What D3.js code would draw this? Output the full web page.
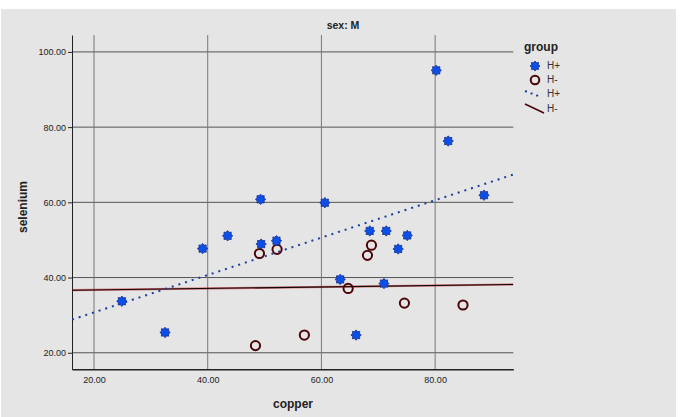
<!DOCTYPE html>
<html><head><meta charset="utf-8">
<script src="https://cdn.jsdelivr.net/npm/d3@7"></script>
<style>body{margin:0;background:#fff}svg{display:block}</style>
</head><body>
<script>
const hPlusCopper = [24.9,32.5,39.1,43.5,49.3,49.4,52.1,60.6,68.5,71.4,75.1,73.5,63.3,71.0,66.1,88.6,80.2,82.3];
const hPlusSelenium = [33.7,25.4,47.7,51.1,60.8,48.9,49.8,59.9,52.4,52.4,51.2,47.6,39.5,38.4,24.7,61.9,95.1,76.3];
const hMinusCopper = [49.1,52.2,48.4,57.0,68.8,68.1,64.7,74.6,84.9];
const hMinusSelenium = [46.4,47.5,21.9,24.7,48.6,45.9,37.1,33.2,32.7];
const xTicks = [20,40,60,80];
const yTicks = [20,40,60,80,100];
const groups = ["H+","H-"];

const W=680,H=417;
const svg=d3.select("body").append("svg").attr("width",W).attr("height",H);
svg.append("rect").attr("x",1).attr("y",9).attr("width",675).attr("height",408).attr("fill","#e5e5e5");

const x=d3.scaleLinear().domain([16.13,93.75]).range([72,513.3]);
const y=d3.scaleLinear().domain([15.6,104.5]).range([369.3,35]);
const [x0,x1]=x.range(), [y0,y1]=y.range();

// grid
svg.append("g").selectAll("line").data(yTicks).join("line")
  .attr("x1",x0).attr("x2",x1).attr("y1",d=>y(d)).attr("y2",d=>y(d))
  .attr("stroke","#555").attr("stroke-width",1);
svg.append("g").selectAll("line").data(xTicks).join("line")
  .attr("x1",d=>x(d)).attr("x2",d=>x(d)).attr("y1",y0).attr("y2",y1)
  .attr("stroke","#777").attr("stroke-width",1);

// axes
const yAxis=d3.axisLeft(y).tickValues(yTicks).tickFormat(d3.format(".2f")).tickSize(4).tickSizeOuter(0);
const gy=svg.append("g").attr("transform",`translate(${x0},0)`).call(yAxis);
gy.select(".domain").attr("stroke","#222");
gy.selectAll(".tick line").attr("stroke","#222");
gy.selectAll("text").attr("font-family","Liberation Sans, Arial, sans-serif").attr("font-size",9).attr("fill","#222").attr("x",-6);

const xAxis=d3.axisBottom(x).tickValues(xTicks).tickFormat(d3.format(".2f")).tickSize(0).tickSizeOuter(0);
const gx=svg.append("g").attr("transform",`translate(0,${y0})`).call(xAxis);
gx.select(".domain").attr("stroke","#222").attr("stroke-width",1.5);
gx.selectAll("text").attr("font-family","Liberation Sans, Arial, sans-serif").attr("font-size",9).attr("fill","#222").attr("dy","0").attr("y",14);

// titles
svg.append("text").attr("x",343).attr("y",29).attr("text-anchor","middle")
  .attr("font-family","Liberation Sans, Arial, sans-serif").attr("font-weight","bold").attr("font-size",10.5).attr("fill","#222").text("sex: M");
svg.append("text").attr("x",293).attr("y",408).attr("text-anchor","middle")
  .attr("font-family","Liberation Sans, Arial, sans-serif").attr("font-weight","bold").attr("font-size",12).attr("fill","#222").text("copper");
svg.append("text").attr("transform","translate(27,207) rotate(-90)").attr("text-anchor","middle")
  .attr("font-family","Liberation Sans, Arial, sans-serif").attr("font-weight","bold").attr("font-size",12).attr("fill","#222").text("selenium");

// regression
function fit(xs,ys){
  const mx=d3.mean(xs), my=d3.mean(ys);
  let sxy=0,sxx=0;
  xs.forEach((v,i)=>{sxy+=(v-mx)*(ys[i]-my);sxx+=(v-mx)*(v-mx);});
  const b=sxy/sxx; return {b,a:my-b*mx};
}
svg.append("clipPath").attr("id","c").append("rect").attr("x",x0).attr("y",y1).attr("width",x1-x0).attr("height",y0-y1);
const [dx0,dx1]=x.domain();
const fp=fit(hPlusCopper,hPlusSelenium), fm=fit(hMinusCopper,hMinusSelenium);
const line=d3.line().x(d=>x(d[0])).y(d=>y(d[1]));
svg.append("path").attr("clip-path","url(#c)")
  .attr("d",line([[dx0,fm.a+fm.b*dx0],[dx1,fm.a+fm.b*dx1]]))
  .attr("stroke","#c0101a").attr("stroke-width",2.2).attr("fill","none").attr("opacity",0.55);
svg.append("path").attr("clip-path","url(#c)")
  .attr("d",line([[dx0,fm.a+fm.b*dx0],[dx1,fm.a+fm.b*dx1]]))
  .attr("stroke","#120606").attr("stroke-width",1.1).attr("fill","none");
svg.append("path").attr("clip-path","url(#c)")
  .attr("d",line([[dx0,fp.a+fp.b*dx0],[dx1,fp.a+fp.b*dx1]]))
  .attr("stroke","#1a3f9a").attr("stroke-width",2).attr("stroke-dasharray","2,5").attr("fill","none");

// star marker path
function gear(r){
  const pts=[];const n=8;
  for(let i=0;i<n*2;i++){
    const a=Math.PI*i/n - Math.PI/2;
    const rr=i%2===0?r:r*0.72;
    pts.push([rr*Math.cos(a),rr*Math.sin(a)]);
  }
  return d3.line().curve(d3.curveLinearClosed)(pts);
}
const hPlus=hPlusCopper.map((v,i)=>[v,hPlusSelenium[i]]);
const hMinus=hMinusCopper.map((v,i)=>[v,hMinusSelenium[i]]);

svg.append("g").selectAll("circle").data(hMinus).join("circle")
  .attr("cx",d=>x(d[0])).attr("cy",d=>y(d[1])).attr("r",4.6)
  .attr("fill","none").attr("stroke","#4a0508").attr("stroke-width",2);
svg.append("g").selectAll("path").data(hPlus).join("path")
  .attr("d",gear(5.2)).attr("transform",d=>`translate(${x(d[0])},${y(d[1])})`)
  .attr("fill","#0b4fe6").attr("stroke","#1a2d8a").attr("stroke-width",0.8);

// legend
const lg=svg.append("g").attr("font-family","Liberation Sans, Arial, sans-serif");
lg.append("text").attr("x",524).attr("y",51).attr("font-weight","bold").attr("font-size",12).attr("fill","#222").text("group");
lg.append("path").attr("d",gear(5)).attr("transform","translate(535,66)").attr("fill","#0b4fe6").attr("stroke","#1a2d8a").attr("stroke-width",0.8);
lg.append("circle").attr("cx",535).attr("cy",80).attr("r",4.3).attr("fill","none").attr("stroke","#4a0508").attr("stroke-width",2);
lg.append("line").attr("x1",525).attr("y1",91).attr("x2",541).attr("y2",97).attr("stroke","#1a3f9a").attr("stroke-width",2).attr("stroke-dasharray","2,4");
lg.append("line").attr("x1",525).attr("y1",104).attr("x2",544).attr("y2",113).attr("stroke","#4a0508").attr("stroke-width",1.5);
const labs=[[69,groups[0]],[83,groups[1]],[97,groups[0]],[112,groups[1]]];
lg.selectAll("text.l").data(labs).join("text").attr("class","l").attr("x",547).attr("y",d=>d[0])
  .attr("font-size",10).attr("fill","#333").text(d=>d[1]);
</script>
</body></html>
